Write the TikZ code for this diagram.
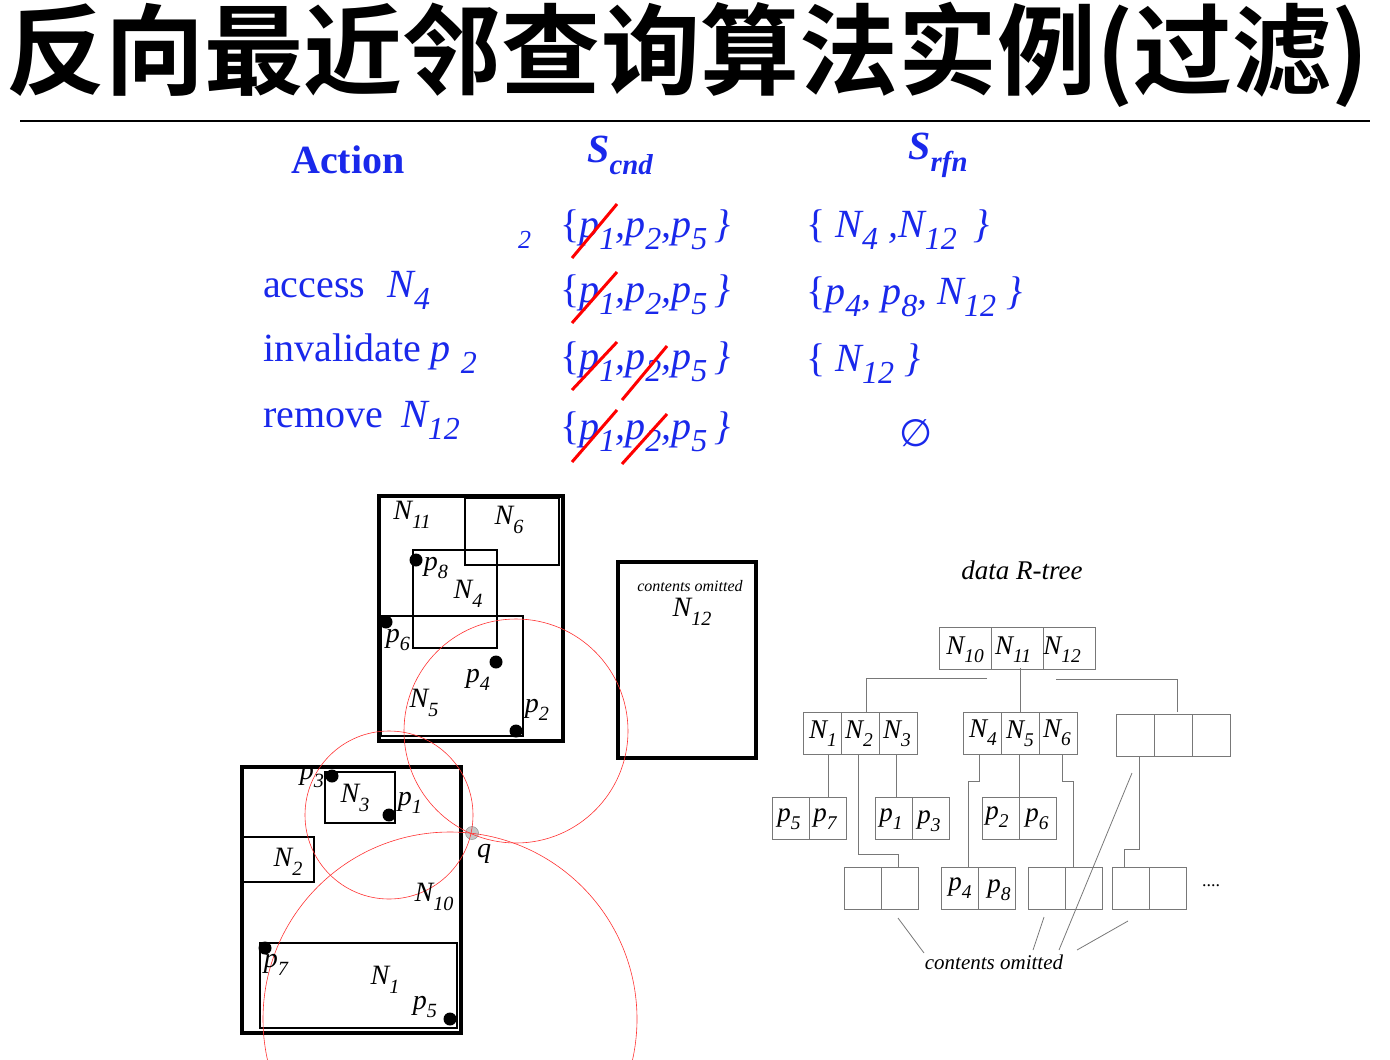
\documentclass[tikz,border=0pt]{standalone}
\usepackage{fontspec}
\setmainfont{Liberation Serif}
\newfontfamily\cjk{Noto Sans CJK SC Bold}
\newfontfamily\djv{DejaVu Sans}
\usepackage{graphicx}
\definecolor{tblue}{RGB}{25,40,235}
\definecolor{tgray}{RGB}{120,120,120}
\newcommand\sbx[1]{\raisebox{-0.3em}{\scalebox{0.72}{#1}}}
\newcommand\sbt[1]{\raisebox{-0.3em}{\scalebox{0.8}{#1}}}
\begin{document}
\begin{tikzpicture}[x=1pt,y=-1pt,
  tb/.style={text=tblue,font=\fontsize{40}{42}\selectfont,inner sep=0,anchor=west},
  hd/.style={text=tblue,font=\bfseries\fontsize{40}{42}\selectfont,inner sep=0},
  strike/.style={red,line width=3pt},
  lab/.style={font=\itshape\fontsize{28}{30}\selectfont,inner sep=0},
  pt/.style={circle,fill=black,inner sep=0,minimum size=13pt},
  thick box/.style={line width=4.5pt},
  thin box/.style={line width=2pt},
  rc/.style={red!80!white,line width=0.6pt},
  gl/.style={tgray,line width=0.8pt},
  tl/.style={font=\itshape\fontsize{27}{28}\selectfont,inner sep=0}]
\useasboundingbox (0,0) rectangle (1390,1060);
% title
\node[inner sep=0] (title) at (688,55) {\resizebox{1362pt}{!}{\cjk 反向最近邻查询算法实例(过滤)}};
\draw[line width=1.5pt] (20,121) -- (1370,121);
% headers
\node[hd] (hA) at (348,160) {Action};
\node[hd] (hC) at (620,155) {\itshape S\sbx{cnd}};
\node[hd] (hR) at (938,155) {\itshape S\sbx{rfn}};
% rows
\node[tb,font=\itshape\fontsize{26}{28}\selectfont] (two) at (518,240) {2};
\foreach \r/\y in {1/230,2/295,3/362,4/432}{
  \node[tb] (c\r) at (560,\y) {\{\itshape p\sbt{1},p\sbt{2},p\sbt{5}\,\}};
}
\draw[strike] (572,258) -- (617,204);
\draw[strike] (572,323) -- (617,272);
\draw[strike] (572,390) -- (617,342);
\draw[strike] (572,462) -- (617,410);
\draw[strike] (622,400) -- (667,346);
\draw[strike] (622,464) -- (667,414);
\node[tb] (a2) at (263,290) {access\hspace{22pt}\itshape N\sbt{4}};
\node[tb] (a3) at (263,354) {invalidate \itshape p \sbt{2}};
\node[tb] (a4) at (263,420) {remove\hspace{18pt}\itshape N\sbt{12}};
\node[tb] (r1) at (806,230) {\{ \itshape N\sbt{4} ,N\sbt{12}\, \}};
\node[tb] (r2) at (806,297) {\{\itshape p\sbt{4}, p\sbt{8}, N\sbt{12} \}};
\node[tb] (r3) at (806,364) {\{ \itshape N\sbt{12} \}};
\node[text=tblue,font=\djv\fontsize{38}{40}\selectfont] (r4) at (916,433) {∅};
% spatial
\draw[thick box] (379,496) rectangle (563,741);
\draw[thin box] (465,498) rectangle (559,565);
\draw[thin box] (413,550) rectangle (497,648);
\draw[thin box] (381,616) rectangle (523,736);
\draw[thick box] (242,767) rectangle (461,1033);
\draw[thin box] (325,772) rectangle (395,823);
\draw[thin box] (243,837) rectangle (314,882);
\draw[thin box] (260,943) rectangle (457,1028);
\draw[thick box] (618,562) rectangle (756,758);
\node[pt] (p8) at (416,560) {};
\node[pt] (p6) at (386,622) {};
\node[pt] (p4) at (496,662) {};
\node[pt] (p2) at (516,731) {};
\node[pt] (p3) at (332,776) {};
\node[pt] (p1) at (389,815) {};
\node[pt] (p7) at (265,948) {};
\node[pt] (p5) at (450,1019) {};
\node[circle,fill=gray!45,draw=gray,inner sep=0,minimum size=13pt] (q) at (472,833) {};
\begin{scope}
\clip (0,470) rectangle (760,1060);
\draw[rc] (p2) circle (112);
\draw[rc] (p1) circle (84);
\draw[rc] (p5) circle (187);
\end{scope}
\node[lab] at (412,515) {N\sbx{11}};
\node[lab] at (509,520) {N\sbx{6}};
\node[lab] at (436,568) {p\sbx{8}};
\node[lab] at (468,594) {N\sbx{4}};
\node[lab] at (398,640) {p\sbx{6}};
\node[lab] at (478,680) {p\sbx{4}};
\node[lab] at (424,703) {N\sbx{5}};
\node[lab] at (537,710) {p\sbx{2}};
\node[lab] at (312,777) {p\sbx{3}};
\node[lab] at (355,798) {N\sbx{3}};
\node[lab] at (410,803) {p\sbx{1}};
\node[lab] at (484,854) {q};
\node[lab] at (288,862) {N\sbx{2}};
\node[lab] at (434,897) {N\sbx{10}};
\node[lab] at (276,965) {p\sbx{7}};
\node[lab] at (385,980) {N\sbx{1}};
\node[lab] at (425,1007) {p\sbx{5}};
\node[font=\itshape\fontsize{16}{16}\selectfont,inner sep=0] at (690,586) {contents omitted};
\node[lab] at (692,612) {N\sbx{12}};
% tree
\node[font=\itshape\fontsize{27}{28}\selectfont] (dt) at (1022,570) {data R-tree};
\foreach \x/\y/\w in {939/627/52,803/712/38,963/712/38,1116/714/38}{
  \foreach \i in {0,1,2}{\draw[gl] (\x+\i*\w,\y) rectangle ++(\w,42);}}
\foreach \x/\y in {772/797,875/797,982/797,844/867,941/867,1028/867,1112/867}{
  \foreach \i in {0,1}{\draw[gl] (\x+\i*37,\y) rectangle ++(37,42);}}
\node[tl] at (965,650) {N\sbx{10}};
\node[tl] at (1013,650) {N\sbx{11}};
\node[tl] at (1062,650) {N\sbx{12}};
\node[tl] at (823,734) {N\sbx{1}};
\node[tl] at (859,734) {N\sbx{2}};
\node[tl] at (897,734) {N\sbx{3}};
\node[tl] at (983,733) {N\sbx{4}};
\node[tl] at (1020,734) {N\sbx{5}};
\node[tl] at (1057,733) {N\sbx{6}};
\node[tl] at (789,819) {p\sbx{5}};
\node[tl] at (825,819) {p\sbx{7}};
\node[tl] at (891,819) {p\sbx{1}};
\node[tl] at (929,821) {p\sbx{3}};
\node[tl] at (997,817) {p\sbx{2}};
\node[tl] at (1037,819) {p\sbx{6}};
\node[tl] at (960,888) {p\sbx{4}};
\node[tl] at (999,890) {p\sbx{8}};
\node[font=\fontsize{18}{18}\selectfont] at (1211,886) {....};
\draw[gl] (987,678) -- (866,678) -- (866,712);
\draw[gl] (1020,668) -- (1020,712);
\draw[gl] (1056,679) -- (1177,679) -- (1177,712);
\draw[gl] (828,754) -- (828,797);
\draw[gl] (858,754) -- (858,854) -- (898,854) -- (898,867);
\draw[gl] (896,754) -- (896,797);
\draw[gl] (979,754) -- (979,781) -- (968,781) -- (968,867);
\draw[gl] (1019,754) -- (1019,797);
\draw[gl] (1062,754) -- (1062,781) -- (1073,781) -- (1073,867);
\draw[gl] (1139,756) -- (1139,849) -- (1124,849) -- (1124,867);
\node[font=\itshape\fontsize{21}{22}\selectfont,inner sep=0] (co) at (994,962) {contents omitted};
\draw[gl] (898,918) -- (924,953);
\draw[gl] (1044,917) -- (1033,950);
\draw[gl] (1132,773) -- (1059,950);
\draw[gl] (1128,921) -- (1077,950);
\end{tikzpicture}
\end{document}
